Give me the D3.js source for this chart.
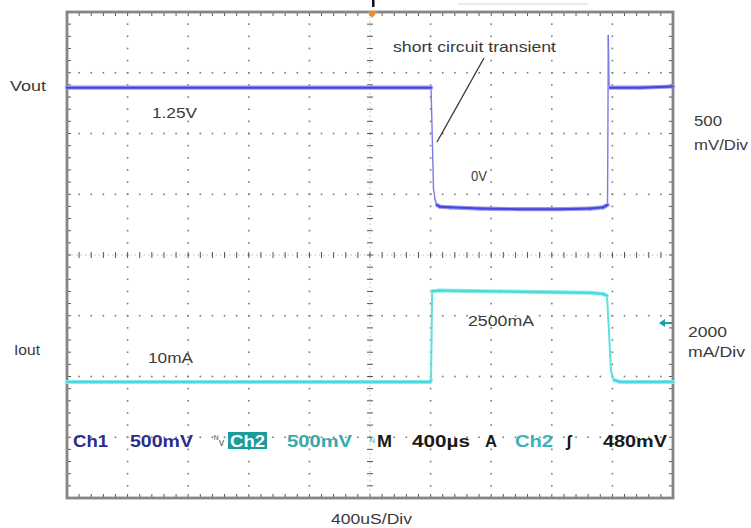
<!DOCTYPE html>
<html>
<head>
<meta charset="utf-8">
<script src="https://cdn.jsdelivr.net/npm/d3@7"></script>
<style>
  html, body { margin: 0; padding: 0; background: #fff; }
  svg { display: block; }
  text { font-family: "Liberation Sans", Arial, sans-serif; }
</style>
</head>
<body>
<svg id="chart" width="751" height="528"></svg>
<script>
// ---- Data ----
// Time in microseconds relative to trigger (400 us/div, 10 divisions)
const voutTimeUs = [-2000, 403, 413, 419, 429, 442, 462, 528, 726, 990, 1254, 1452, 1538, 1568, 1573, 1578, 1584, 1782, 2000];
const voutV      = [0.99, 0.99, 0.48, 0.16, 0.07, 0.025, 0.01, 0.005, -0.005, -0.01, -0.01, -0.005, 0.005, 0.025, 1.42, 1.02, 0.99, 0.99, 1.0];

const ioutTimeUs = [-2000, 396, 403, 410, 462, 858, 1254, 1452, 1538, 1564, 1577, 1591, 1610, 1650, 2000];
const ioutMA     = [10, 10, 60, 3000, 3020, 2990, 2960, 2945, 2910, 2850, 1720, 350, 80, 10, 10];

// Channel settings
const ch1VoltsPerDiv = 0.5;     // 500 mV/Div
const ch1OffsetDiv = 0.774;      // ground position
const ch2MAPerDiv = 2000;        // 2000 mA/Div
const ch2OffsetDiv = -2.095;     // ground position
const usPerDiv = 400;
const triggerTimeUs = 15;
const triggerLevelMA = 1950;

// Labels
const traceLabels = [
  {text: "Vout", x: 10, y: 91, w: 36},
  {text: "Iout", x: 14, y: 355, w: 26},
  {text: "1.25V", x: 152, y: 118, w: 45},
  {text: "0V", x: 471, y: 181, w: 16},
  {text: "10mA", x: 148, y: 363, w: 45},
  {text: "2500mA", x: 468, y: 326, w: 66},
  {text: "short circuit transient", x: 393, y: 52, w: 163},
  {text: "500", x: 694, y: 126, w: 28},
  {text: "mV/Div", x: 694, y: 150, w: 54},
  {text: "2000", x: 688, y: 337, w: 39},
  {text: "mA/Div", x: 688, y: 357, w: 57},
  {text: "400uS/Div", x: 331, y: 524, w: 81}
];
const statusItems = [
  {text: "Ch1",   x: 73,  w: 35, color: "#2c2c8a", weight: "bold"},
  {text: "500mV", x: 130, w: 63, color: "#2c2c8a", weight: "bold"},
  {text: "500mV", x: 287, w: 65, color: "#38a8a8", weight: "bold"},
  {text: "M",     x: 377, w: 15, color: "#1a1a1a", weight: "600"},
  {text: "400µs", x: 412, w: 58, color: "#1a1a1a", weight: "600"},
  {text: "A",     x: 485, w: 12, color: "#1a1a1a", weight: "600"},
  {text: "Ch2",   x: 515, w: 38, color: "#3ab2b8", weight: "600"},
  {text: "480mV", x: 603, w: 64, color: "#1a1a1a", weight: "bold"}
];

// ---- Scales ----
const frame = {x0: 67, x1: 673, y0: 12, y1: 498};
const x = d3.scaleLinear().domain([-5 * usPerDiv, 5 * usPerDiv]).range([frame.x0, frame.x1]);
const yDiv = d3.scaleLinear().domain([-4, 4]).range([frame.y1, frame.y0]);
const yV = v => yDiv(ch1OffsetDiv + v / ch1VoltsPerDiv);
const yI = i => yDiv(ch2OffsetDiv + i / ch2MAPerDiv);

const svg = d3.select("#chart");

// ---- Graticule ----
const g = svg.append("g");
const minorX = d3.range(0, 51).map(k => -2000 + k * usPerDiv / 5);
const minorY = d3.range(0, 41).map(k => -4 + k / 5);
const majorX = d3.range(-4, 5).filter(k => k !== 0).map(k => k * usPerDiv);
const majorY = d3.range(-3, 4).filter(k => k !== 0);

majorX.forEach(t => {
  g.selectAll(null).data(minorY.slice(1, -1)).enter().append("rect")
    .attr("x", x(t) - 0.8).attr("y", d => yDiv(d) - 0.8)
    .attr("width", 1.6).attr("height", 1.6).attr("fill", "#7a7a7a");
});
majorY.forEach(dv => {
  g.selectAll(null).data(minorX.slice(1, -1)).enter().append("rect")
    .attr("x", d => x(d) - 0.8).attr("y", yDiv(dv) - 0.8)
    .attr("width", 1.6).attr("height", 1.6).attr("fill", "#7a7a7a");
});
g.append("line").attr("x1", x(0)).attr("x2", x(0)).attr("y1", frame.y0).attr("y2", frame.y1)
  .attr("stroke", "#aaa").attr("stroke-width", 0.8).attr("stroke-dasharray", "1.5,3");
g.append("line").attr("y1", yDiv(0)).attr("y2", yDiv(0)).attr("x1", frame.x0).attr("x2", frame.x1)
  .attr("stroke", "#aaa").attr("stroke-width", 0.8).attr("stroke-dasharray", "1.5,3");
g.selectAll(null).data(minorY).enter().append("line")
  .attr("x1", x(0) - 3).attr("x2", x(0) + 3).attr("y1", d => yDiv(d)).attr("y2", d => yDiv(d))
  .attr("stroke", "#555").attr("stroke-width", 1);
g.selectAll(null).data(minorX).enter().append("line")
  .attr("y1", yDiv(0) - 3).attr("y2", yDiv(0) + 3).attr("x1", d => x(d)).attr("x2", d => x(d))
  .attr("stroke", "#555").attr("stroke-width", 1);
g.selectAll(null).data(minorX).enter().append("line")
  .attr("x1", d => x(d)).attr("x2", d => x(d)).attr("y1", frame.y0).attr("y2", frame.y0 + 4)
  .attr("stroke", "#555").attr("stroke-width", 1);
g.selectAll(null).data(minorX).enter().append("line")
  .attr("x1", d => x(d)).attr("x2", d => x(d)).attr("y1", frame.y1).attr("y2", frame.y1 - 4)
  .attr("stroke", "#555").attr("stroke-width", 1);
g.selectAll(null).data(minorY).enter().append("line")
  .attr("y1", d => yDiv(d)).attr("y2", d => yDiv(d)).attr("x1", frame.x0).attr("x2", frame.x0 + 4)
  .attr("stroke", "#555").attr("stroke-width", 1);
g.selectAll(null).data(minorY).enter().append("line")
  .attr("y1", d => yDiv(d)).attr("y2", d => yDiv(d)).attr("x1", frame.x1).attr("x2", frame.x1 - 4)
  .attr("stroke", "#555").attr("stroke-width", 1);
g.append("rect").attr("x", frame.x0).attr("y", frame.y0)
  .attr("width", frame.x1 - frame.x0).attr("height", frame.y1 - frame.y0)
  .attr("fill", "none").attr("stroke", "#858585").attr("stroke-width", 2.8);

// top marks above frame
svg.append("line").attr("x1", x(triggerTimeUs) + 1).attr("x2", x(triggerTimeUs) + 1).attr("y1", 0).attr("y2", 7)
  .attr("stroke", "#111").attr("stroke-width", 2.5);
svg.append("line").attr("x1", 458).attr("x2", 588).attr("y1", 4).attr("y2", 4)
  .attr("stroke", "#e4e4e4").attr("stroke-width", 1.5);

// trigger marker (orange)
const tx = x(triggerTimeUs);
svg.append("path").attr("d", `M${tx - 5},${frame.y0 - 1} L${tx + 5},${frame.y0 - 1} L${tx},${frame.y0 + 6} Z`)
  .attr("fill", "#f08a24");

// ---- Traces ----
function drawTrace(ts, vs, yFn, thick, thin) {
  const pts = ts.map((t, i) => [x(t), yFn(vs[i])]);
  const segs = d3.pairs(pts);
  const steep = s => Math.abs(s[1][1] - s[0][1]) > 2 * Math.abs(s[1][0] - s[0][0]);
  const tg = svg.append("g");
  tg.selectAll(null).data(segs.filter(steep)).enter().append("line")
    .attr("x1", s => s[0][0]).attr("y1", s => s[0][1]).attr("x2", s => s[1][0]).attr("y2", s => s[1][1])
    .attr("stroke", thin.color).attr("stroke-width", thin.width).attr("stroke-linecap", "round");
  const flat = segs.filter(s => !steep(s));
  tg.selectAll(null).data(flat).enter().append("line")
    .attr("x1", s => s[0][0]).attr("y1", s => s[0][1]).attr("x2", s => s[1][0]).attr("y2", s => s[1][1])
    .attr("stroke", thick.under).attr("stroke-width", thick.uw).attr("stroke-linecap", "round");
  tg.selectAll(null).data(flat).enter().append("line")
    .attr("x1", s => s[0][0]).attr("y1", s => s[0][1]).attr("x2", s => s[1][0]).attr("y2", s => s[1][1])
    .attr("stroke", thick.core).attr("stroke-width", thick.cw).attr("stroke-linecap", "round");
}
drawTrace(voutTimeUs, voutV, yV,
  {under: "#9898f2", uw: 4.2, core: "#4545de", cw: 2},
  {color: "#7a7aee", width: 1.4});
drawTrace(ioutTimeUs, ioutMA, yI,
  {under: "#8eecec", uw: 4, core: "#4adcdc", cw: 2.2},
  {color: "#5ee0e0", width: 2});

// ch2 trigger level arrow
const ay = yI(triggerLevelMA);
svg.append("path").attr("d", `M${frame.x1 - 14},${ay} L${frame.x1 - 8},${ay - 4} L${frame.x1 - 8},${ay + 4} Z`)
  .attr("fill", "#18a0a0");
svg.append("line").attr("x1", frame.x1 - 9).attr("x2", frame.x1 - 1).attr("y1", ay).attr("y2", ay)
  .attr("stroke", "#18a0a0").attr("stroke-width", 2);

// annotation leader line
svg.append("line").attr("x1", 484).attr("y1", 58).attr("x2", 437).attr("y2", 142)
  .attr("stroke", "#333").attr("stroke-width", 1.3);

// ---- Text ----
svg.selectAll(null).data(traceLabels).enter().append("text")
  .attr("x", d => d.x).attr("y", d => d.y)
  .attr("font-size", 15).attr("fill", "#3a3a3a")
  .attr("textLength", d => d.w).attr("lengthAdjust", "spacingAndGlyphs")
  .text(d => d.text);

// status bar
const sy = 447;
svg.selectAll(null).data(statusItems).enter().append("text")
  .attr("x", d => d.x).attr("y", sy)
  .attr("font-family", "'DejaVu Sans', sans-serif").attr("font-size", 17)
  .attr("font-weight", d => d.weight).attr("fill", d => d.color)
  .attr("textLength", d => d.w).attr("lengthAdjust", "spacingAndGlyphs")
  .text(d => d.text);
svg.append("rect").attr("x", 228).attr("y", 432).attr("width", 39).attr("height", 17).attr("fill", "#1d9a9a");
svg.append("text").attr("x", 230).attr("y", sy).attr("font-family", "'DejaVu Sans', sans-serif")
  .attr("font-size", 17).attr("font-weight", "bold").attr("fill", "#fff")
  .attr("textLength", 35).attr("lengthAdjust", "spacingAndGlyphs").text("Ch2");
svg.append("text").attr("x", 214).attr("y", 442).attr("font-family", "'DejaVu Sans', sans-serif")
  .attr("font-size", 10).attr("fill", "#555").text("ᴺ");
svg.append("text").attr("x", 219).attr("y", 446).attr("font-family", "'DejaVu Sans', sans-serif")
  .attr("font-size", 10).attr("fill", "#555").text("v");
svg.append("text").attr("x", 370).attr("y", 446).attr("font-family", "'DejaVu Sans', sans-serif")
  .attr("font-size", 11).attr("fill", "#3ab2b8").text("ᴺ");
svg.append("text").attr("x", 566).attr("y", sy).attr("font-family", "'DejaVu Sans', sans-serif")
  .attr("font-size", 17).attr("font-weight", "bold").attr("fill", "#111").text("ʃ");
</script>
</body>
</html>
